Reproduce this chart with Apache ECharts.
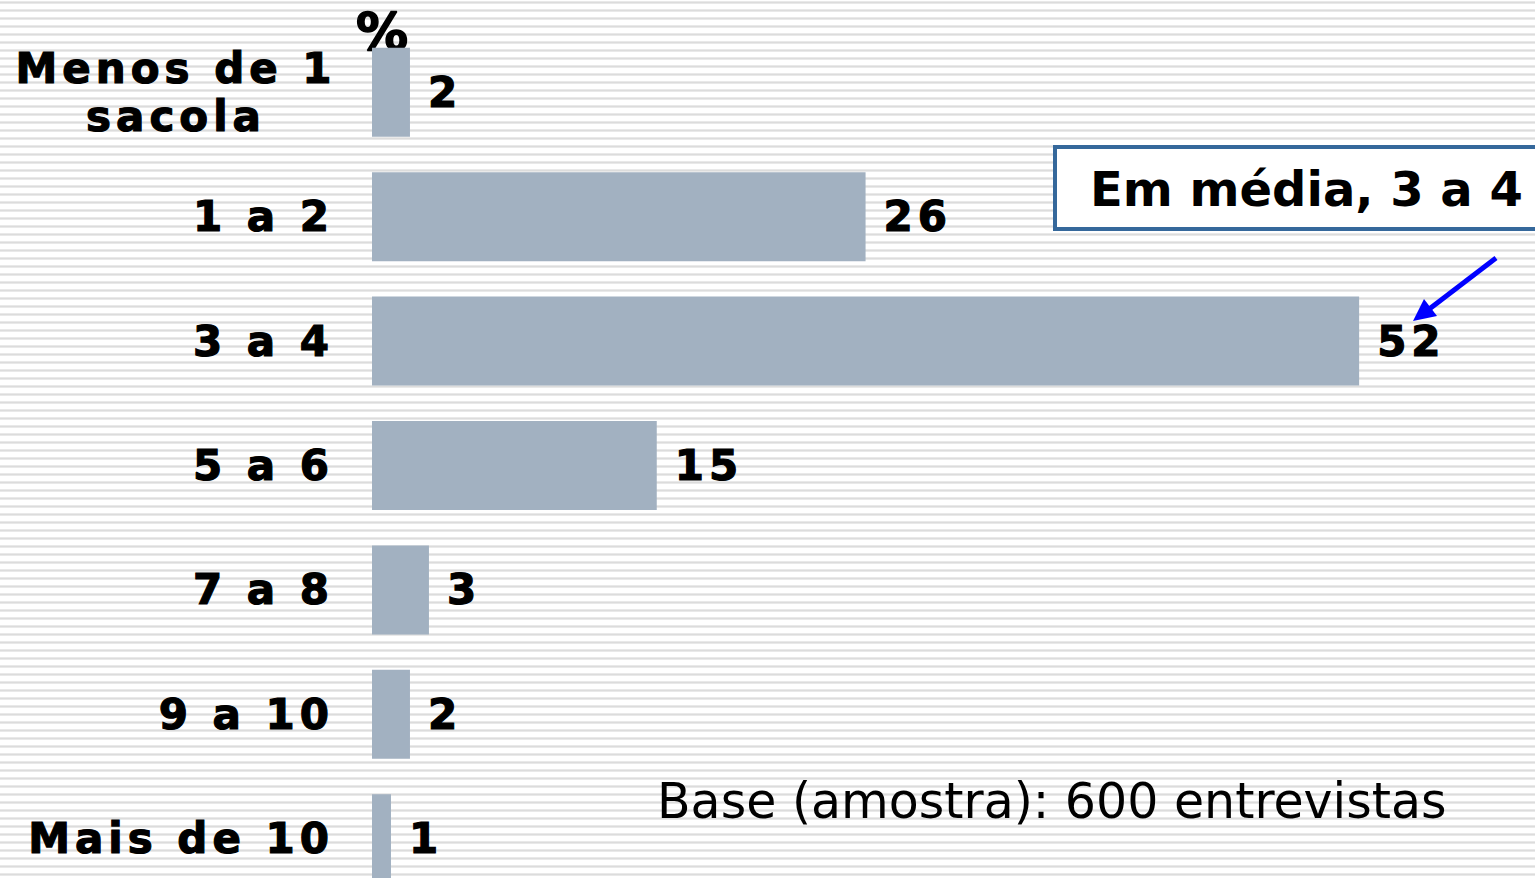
<!DOCTYPE html>
<html>
<head>
<meta charset="utf-8">
<script src="https://cdn.jsdelivr.net/npm/echarts@6/dist/echarts.min.js"></script>
<style>
  html, body { margin: 0; padding: 0; background: #fff; }
  #chart { width: 1535px; height: 878px; }
  /* espaçamento largo das letras nos rótulos em negrito */
  #chart text[style*="900"] { letter-spacing: 5px; }
</style>
</head>
<body>
<div id="chart"></div>
<script>
const categories = ['Menos de 1\nsacola', '1 a 2', '3 a 4', '5 a 6', '7 a 8', '9 a 10', 'Mais de 10']
const values = [2, 26, 52, 15, 3, 2, 1]
const unitLabel = '%'
const noteText = 'Em média, 3 a 4'
const baseText = 'Base (amostra): 600 entrevistas'

const FONT = 'DejaVu Sans'

// fundo listrado (linhas cinza a cada 8px)
function stripes () {
  const c = document.createElement('canvas')
  c.width = 8
  c.height = 8
  const ctx = c.getContext('2d')
  ctx.fillStyle = '#ffffff'
  ctx.fillRect(0, 0, 8, 8)
  ctx.fillStyle = '#e9e9e9'
  ctx.fillRect(0, 1, 8, 1)
  ctx.fillStyle = '#dcdcdc'
  ctx.fillRect(0, 2, 8, 1)
  ctx.fillStyle = '#e9e9e9'
  ctx.fillRect(0, 3, 8, 1)
  return c.toDataURL()
}

const boldLabel = {
  color: '#000',
  fontFamily: FONT,
  fontSize: 42,
  fontWeight: 900,
  textBorderColor: '#000',
  textBorderWidth: 1.2
}

const chart = echarts.init(document.getElementById('chart'), null, { renderer: 'svg' })

const option = {
  backgroundColor: { image: stripes(), repeat: 'repeat' },
  animation: false,
  grid: {
    left: 372,
    top: 30,
    width: 1139,
    height: 871,
    outerBoundsMode: 'none'
  },
  xAxis: {
    type: 'value',
    min: 0,
    max: 60,
    show: false
  },
  yAxis: {
    type: 'category',
    inverse: true,
    data: categories,
    axisLine: { show: false },
    axisTick: { show: false },
    splitLine: { show: false },
    axisLabel: Object.assign({
      interval: 0,
      margin: 38,
      formatter: (val, idx) => idx === 0 ? '{c|' + val + '}' : val,
      rich: {
        c: Object.assign({ align: 'center', width: 316, lineHeight: 48 }, boldLabel)
      }
    }, boldLabel)
  },
  series: [
    {
      type: 'bar',
      data: values,
      barWidth: 89,
      itemStyle: { color: '#a2b1c1' },
      label: Object.assign({
        show: true,
        position: 'right',
        distance: 18
      }, boldLabel)
    }
  ],
  graphic: [
    {
      type: 'text',
      x: 356,
      y: 32,
      style: {
        text: unitLabel,
        fill: '#000',
        font: 'bold 52px "DejaVu Sans"',
        verticalAlign: 'middle',
        stroke: '#000',
        lineWidth: 1.5
      }
    },
    {
      type: 'rect',
      shape: { x: 1055, y: 147, width: 500, height: 82 },
      style: { fill: '#fff', stroke: '#35689b', lineWidth: 4 }
    },
    {
      type: 'text',
      x: 1090,
      y: 189,
      style: {
        text: noteText,
        fill: '#000',
        font: 'bold 48px "DejaVu Sans"',
        verticalAlign: 'middle'
      }
    },
    {
      type: 'text',
      x: 657,
      y: 801,
      style: {
        text: baseText,
        fill: '#000',
        font: '49px "DejaVu Sans"',
        verticalAlign: 'middle'
      }
    },
    // seta azul apontando para o 52
    {
      type: 'line',
      shape: { x1: 1496, y1: 258, x2: 1428, y2: 310 },
      style: { stroke: '#0000ff', lineWidth: 5 }
    },
    {
      type: 'polygon',
      shape: { points: [[1413, 321], [1437, 316], [1424, 299]] },
      style: { fill: '#0000ff' }
    }
  ]
}

chart.setOption(option)
</script>
</body>
</html>
